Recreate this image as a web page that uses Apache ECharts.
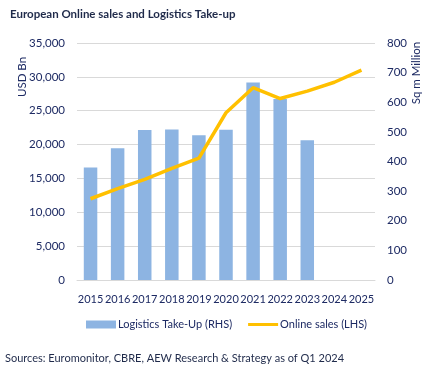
<!DOCTYPE html>
<html>
<head>
<meta charset="utf-8">
<script src="https://cdn.jsdelivr.net/npm/echarts@6/dist/echarts.min.js"></script>
<style>
html,body{margin:0;padding:0;background:#fff;}
#c{width:432px;height:372px;}
</style>
</head>
<body>
<div id="c"></div>
<script>
const years = ['2015','2016','2017','2018','2019','2020','2021','2022','2023','2024','2025'];
const logisticsTakeUp = [380, 445, 506, 508, 489, 507, 667, 611, 472, null, null];
const onlineSales = [12000, 13500, 14850, 16500, 18000, 24700, 28400, 26800, 27900, 29200, 31000];
const leftTicks = [0, 5000, 10000, 15000, 20000, 25000, 30000, 35000];
const rightTicks = [0, 100, 200, 300, 400, 500, 600, 700, 800];

const FONT = 'Lato,"Liberation Sans",sans-serif';
const NAVY = '#1d2a63';

const chart = echarts.init(document.getElementById('c'), null, {renderer:'canvas'});
chart.setOption({
  animation:false,
  textStyle:{fontFamily:FONT},
  title:{
    text:'European Online sales and Logistics Take-up',
    left:5, top:3,
    textStyle:{fontFamily:FONT, fontSize:11.5, fontWeight:'bold', color:'#1f2a4a'}
  },
  grid:{left:77, right:57, top:43, bottom:92},
  legend:{
    bottom:37, left:81,
    itemGap:16, itemWidth:30, itemHeight:8,
    textStyle:{fontFamily:FONT, fontSize:11, color:NAVY, padding:[0,0,0,-3]},
    data:[
      {name:'Logistics Take-Up (RHS)', icon:'rect'},
      {name:'Online sales (LHS)', icon:'path://M0,0 L0.01,0 M0,2.5 L30,2.5 L30,5.5 L0,5.5 Z M0,8 L0.01,8'}
    ]
  },
  xAxis:{
    type:'category', data:years,
    axisLine:{lineStyle:{color:'#d9d9d9'}},
    axisTick:{show:false},
    axisLabel:{fontFamily:FONT, fontSize:11, color:NAVY, margin:14, interval:0}
  },
  yAxis:[
    {
      type:'value', min:leftTicks[0], max:leftTicks[leftTicks.length-1], interval:5000,
      axisLine:{show:false}, axisTick:{show:false},
      splitLine:{lineStyle:{color:'#d9d9d9'}},
      axisLabel:{fontFamily:FONT, fontSize:11.5, color:NAVY, margin:12,
        formatter:v=>v.toLocaleString('en-US')}
    },
    {
      type:'value', min:rightTicks[0], max:rightTicks[rightTicks.length-1], interval:100,
      axisLine:{show:false}, axisTick:{show:false},
      splitLine:{show:false},
      axisLabel:{fontFamily:FONT, fontSize:11.5, color:NAVY, margin:12}
    }
  ],
  series:[
    {
      name:'Logistics Take-Up (RHS)', type:'bar', yAxisIndex:1,
      data:logisticsTakeUp, barWidth:13.5,
      itemStyle:{color:'#8db4e2'}
    },
    {
      name:'Online sales (LHS)', type:'line', yAxisIndex:0,
      data:onlineSales, symbol:'none',
      lineStyle:{color:'#ffc000', width:3.5},
      itemStyle:{color:'#ffc000'}
    }
  ],
  graphic:[
    {type:'text', x:22, y:77, rotation:Math.PI/2,
      style:{text:'USD Bn', fill:NAVY, font:'11.5px '+FONT, textAlign:'center', textVerticalAlign:'middle'}},
    {type:'text', x:416, y:73, rotation:Math.PI/2,
      style:{text:'Sq m Million', fill:NAVY, font:'11.5px '+FONT, textAlign:'center', textVerticalAlign:'middle'}},
    {type:'text', x:5, y:358,
      style:{text:'Sources: Euromonitor, CBRE, AEW Research & Strategy as of Q1 2024', fill:'#1f2a4a', font:'11px '+FONT, textVerticalAlign:'middle'}}
  ]
});
</script>
</body>
</html>
